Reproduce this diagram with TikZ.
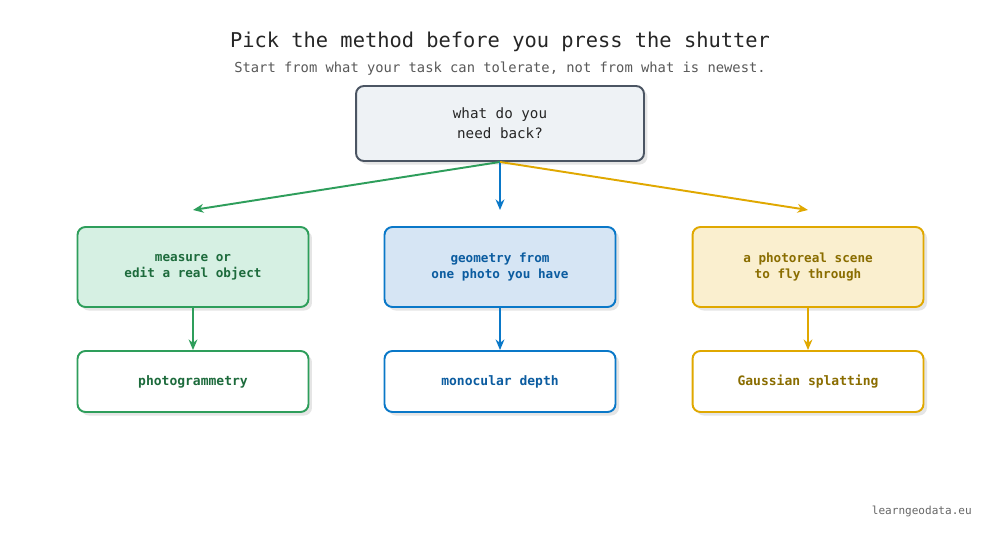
\documentclass[tikz,border=0pt]{standalone}
\usepackage{fontspec}
\setmonofont{DejaVu Sans Mono}
\usepackage{xcolor}
\usetikzlibrary{arrows.meta,positioning,shadows}

\definecolor{rootline}{HTML}{4B5563}
\definecolor{rootfill}{HTML}{EEF2F5}
\definecolor{grnline}{HTML}{2E9E5B}
\definecolor{grnfill}{HTML}{D6F0E3}
\definecolor{grntext}{HTML}{1D6B3C}
\definecolor{bluline}{HTML}{0A78C8}
\definecolor{blufill}{HTML}{D6E5F4}
\definecolor{blutext}{HTML}{0B5CA0}
\definecolor{ylwline}{HTML}{E0A800}
\definecolor{ylwfill}{HTML}{FAEFCF}
\definecolor{ylwtext}{HTML}{8A6D00}

\begin{document}
\begin{tikzpicture}[x=0.02cm, y=-0.02cm, every node/.style={font=\ttfamily},
  box/.style={draw, rounded corners=4.5pt, line width=1.1pt, align=center,
    minimum width=4.62cm, inner sep=0pt,
    drop shadow={shadow xshift=2pt, shadow yshift=-2pt, fill=black!10, opacity=1}},
  question/.style={box, minimum height=1.6cm, font=\ttfamily\bfseries\fontsize{7.2}{9}\selectfont},
  method/.style={box, fill=white, minimum height=1.22cm, font=\ttfamily\bfseries\fontsize{7.4}{9}\selectfont},
  arr/.style={line width=1.1pt, -{Stealth[length=6pt, width=5pt]}}]
\fill[white] (0,0) rectangle (1000,543);

% Heading
\node[text=black!85, font=\ttfamily\fontsize{11.6}{14}\selectfont] (title) at (500,42) {Pick the method before you press the shutter};
\node[text=black!65, font=\ttfamily\fontsize{7.85}{10}\selectfont] (subtitle) at (500,69) {Start from what your task can tolerate, not from what is newest.};

% Root question
\node[box, draw=rootline, fill=rootfill, minimum width=5.76cm, minimum height=1.5cm,
  text=black!85, font=\ttfamily\fontsize{8.1}{11.3}\selectfont] (root) at (500,123.5) {what do you\\need back?};

% Free ends of the fan
\coordinate (endg) at (193,210);
\coordinate (endb) at (500,210);
\coordinate (endy) at (808,210);

% What you want
\node[question, draw=grnline, fill=grnfill, text=grntext] (qg) at (193,267) {measure or\\edit a real object};
\node[question, draw=bluline, fill=blufill, text=blutext] (qb) at (500,267) {geometry from\\one photo you have};
\node[question, draw=ylwline, fill=ylwfill, text=ylwtext] (qy) at (808,267) {a photoreal scene\\to fly through};

% Methods
\node[method, draw=grnline, text=grntext] (mg) at (193,381.5) {photogrammetry};
\node[method, draw=bluline, text=blutext] (mb) at (500,381.5) {monocular depth};
\node[method, draw=ylwline, text=ylwtext] (my) at (808,381.5) {Gaussian splatting};

% Connectors
\foreach \b/\c in {g/grnline, b/bluline, y/ylwline} {
    \draw[arr, \c] (root.south) -- (end\b);
    \draw[arr, \c] (q\b.south) -- (m\b.north);
}

% Footer
\node[anchor=east, text=black!60, font=\ttfamily\fontsize{6.3}{8}\selectfont] (site) at (978,511) {learngeodata.eu};
\end{tikzpicture}
\end{document}
